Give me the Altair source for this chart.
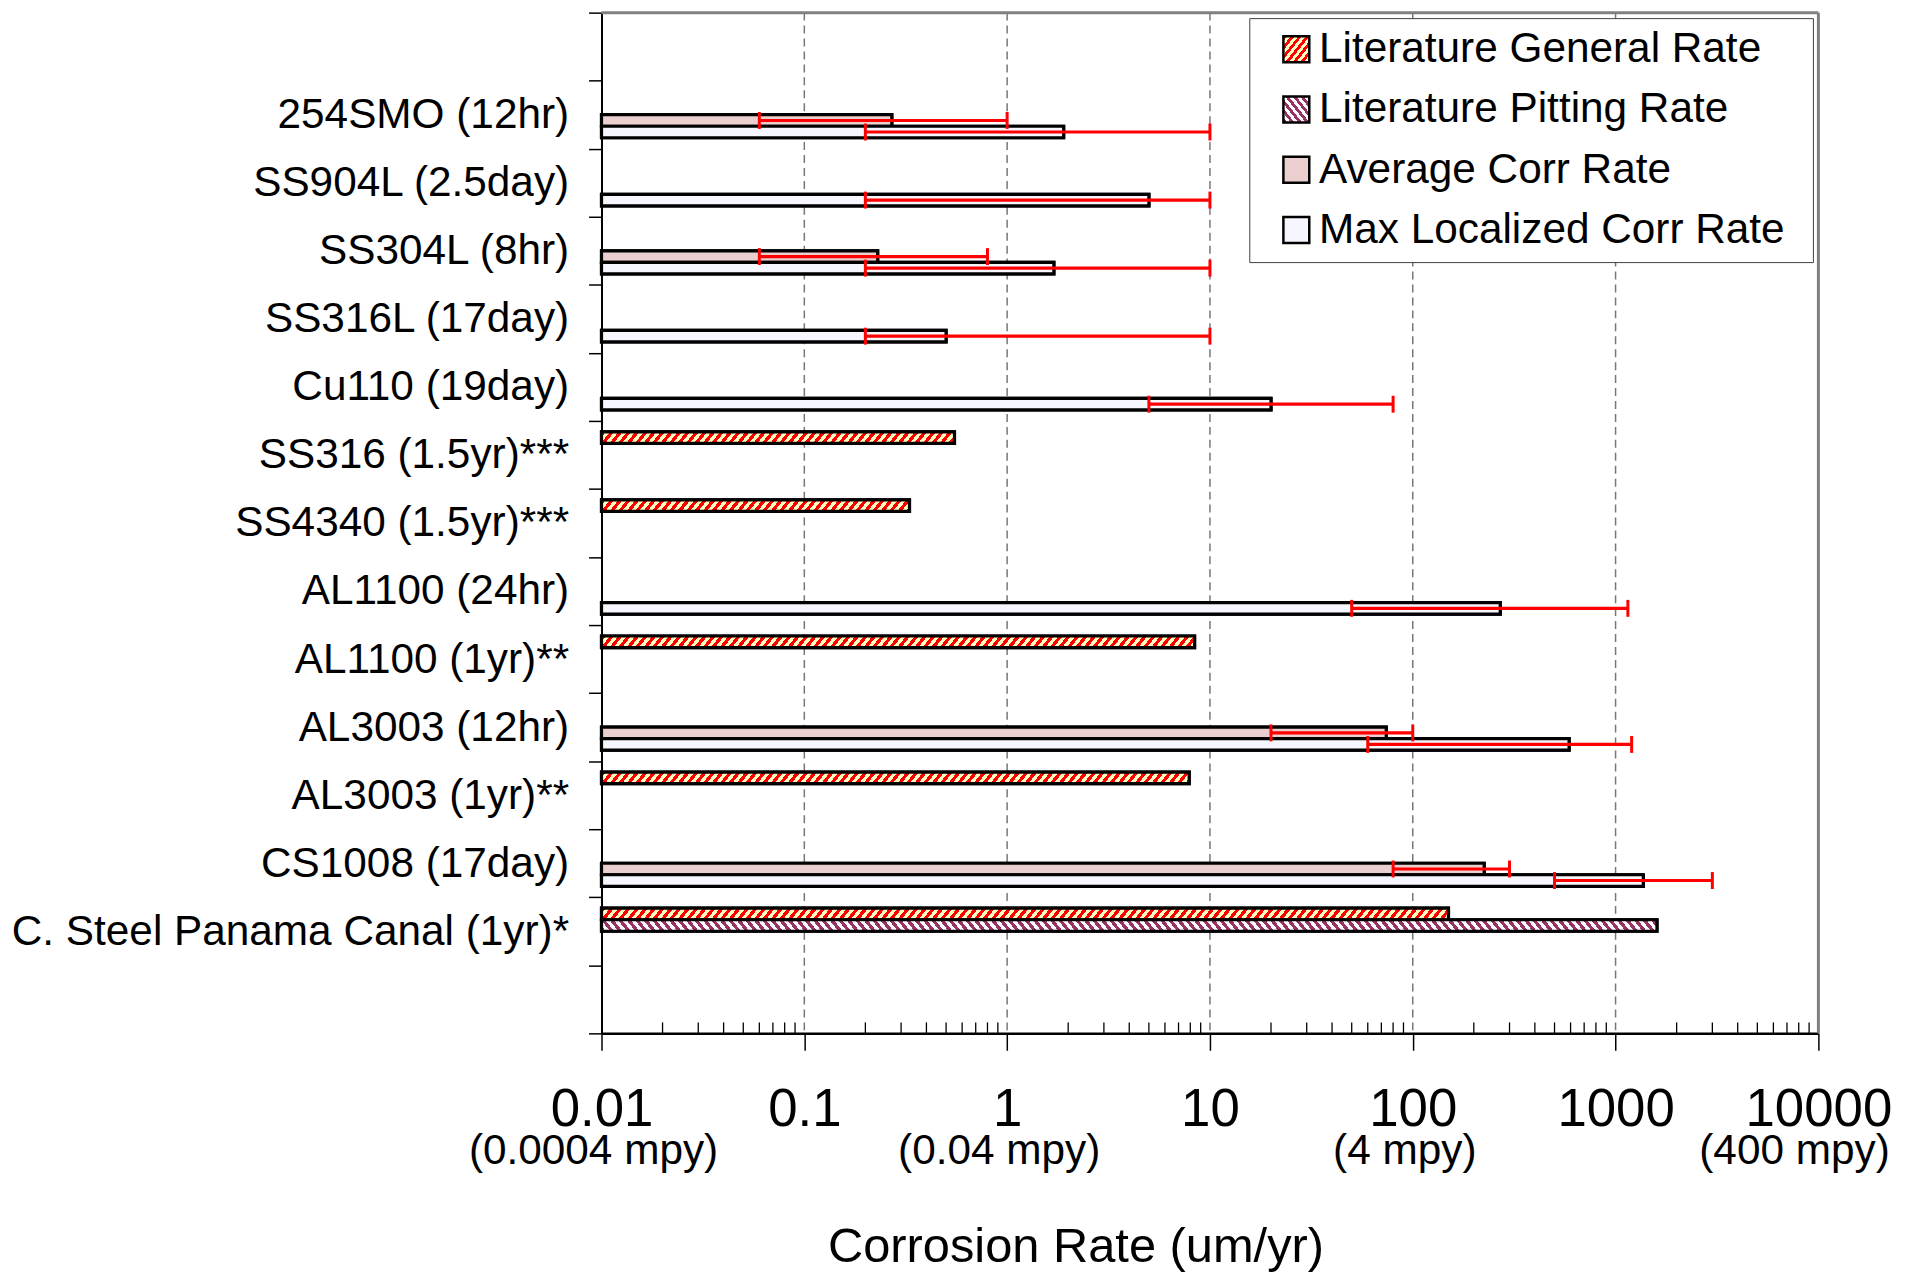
import math
import altair as alt

# ---------------- data ----------------
materials = [
    "254SMO (12hr)", "SS904L (2.5day)", "SS304L (8hr)", "SS316L (17day)",
    "Cu110 (19day)", "SS316 (1.5yr)***", "SS4340 (1.5yr)***", "AL1100 (24hr)",
    "AL1100 (1yr)**", "AL3003 (12hr)", "AL3003 (1yr)**", "CS1008 (17day)",
    "C. Steel Panama Canal (1yr)*",
]
series_names = ["Literature General Rate", "Literature Pitting Rate",
                "Average Corr Rate", "Max Localized Corr Rate"]

lit_general = [None, None, None, None, None, 0.55, 0.33, None, 8.4, None, 7.9, None, 150]
lit_pitting = [None, None, None, None, None, None, None, None, None, None, None, None, 1600]
avg_rate = [0.27, None, 0.23, None, None, None, None, None, None, 74, None, 225, None]
avg_low = [0.06, None, 0.06, None, None, None, None, None, None, 20, None, 80, None]
avg_high = [1.0, None, 0.8, None, None, None, None, None, None, 100, None, 300, None]
max_rate = [1.9, 5.0, 1.7, 0.5, 20, None, None, 270, None, 590, None, 1370, None]
max_low = [0.2, 0.2, 0.2, 0.2, 5, None, None, 50, None, 60, None, 500, None]
max_high = [10, 10, 10, 10, 80, None, None, 1150, None, 1200, None, 3000, None]

x_ticks = [0.01, 0.1, 1, 10, 100, 1000, 10000]
x_tick_labels = ["0.01", "0.1", "1", "10", "100", "1000", "10000"]
grid_at = [0.1, 1, 10, 100, 1000]
mpy_at = [0.01, 1, 100, 10000]
mpy_labels = ["(0.0004 mpy)", "(0.04 mpy)", "(4 mpy)", "(400 mpy)"]
minor_ticks = [0.02, 0.03, 0.04, 0.05, 0.06, 0.07, 0.08, 0.09,
               0.2, 0.3, 0.4, 0.5, 0.6, 0.7, 0.8, 0.9,
               2, 3, 4, 5, 6, 7, 8, 9,
               20, 30, 40, 50, 60, 70, 80, 90,
               200, 300, 400, 500, 600, 700, 800, 900,
               2000, 3000, 4000, 5000, 6000, 7000, 8000, 9000]

# ---------------- layout / style ----------------
W, H = 1222, 1025
PAD = {"left": 596, "top": 2, "right": 93, "bottom": 238}
FONT = "Liberation Sans"
XMIN, XMAX = 0.01, 10000
OFF_PAD = 0.95
N_BANDS = len(materials) + 2
BAR_H = (H / N_BANDS) / (4 + 2 * OFF_PAD)
K = 0.8  # stripe slant
FRAME = "#808080"

GEN_COLORS = ("#ff0000", "#ffffc8")
PIT_COLORS = ("#993366", "#ffffff")
AVG_FILL = "#ebcfcf"
MAX_FILL = "#f6f6ff"


def stripes(w, h, c1, c2, period, slash=True):
    n = max(1.0, (w + K * h) / period)
    lam = (w + K * h) / (w * w + K * K * h * h)
    if slash:
        x1, y1, x2, y2 = 0, 0, lam * w, lam * K * h
    else:
        x1, y1, x2, y2 = 0, 1, lam * w, 1 - lam * K * h
    stops = []
    i = 0
    while i < n:
        a = round(i / n, 5)
        b = round(min((i + 0.5) / n, 1.0), 5)
        c = round(min((i + 1) / n, 1.0), 5)
        stops += [{"offset": a, "color": c1}, {"offset": b, "color": c1},
                  {"offset": b, "color": c2}, {"offset": c, "color": c2}]
        i += 1
    return {"gradient": "linear", "x1": x1, "y1": y1,
            "x2": round(x2, 6), "y2": round(y2, 6), "stops": stops}


def px_width(v):
    return W * (math.log10(v) - math.log10(XMIN)) / (math.log10(XMAX) - math.log10(XMIN))


def bar_fill(series, v):
    if series == series_names[0]:
        return stripes(px_width(v), BAR_H, *GEN_COLORS, 8.5, True)
    if series == series_names[1]:
        return stripes(px_width(v), BAR_H, *PIT_COLORS, 8.5, False)
    if series == series_names[2]:
        return AVG_FILL
    return MAX_FILL


def to_expr(g):
    stops = ",".join("{offset:%s,color:'%s'}" % (s["offset"], s["color"]) for s in g["stops"])
    return "{gradient:'linear',x1:%s,y1:%s,x2:%s,y2:%s,stops:[%s]}" % (
        g["x1"], g["y1"], g["x2"], g["y2"], stops)


SYM = 26
legend_range = [
    alt.ExprRef(to_expr(stripes(SYM, SYM, *GEN_COLORS, 7.5, True))),
    alt.ExprRef(to_expr(stripes(SYM, SYM, *PIT_COLORS, 7.5, False))),
    AVG_FILL,
    MAX_FILL,
]

# ---------------- tables built from the arrays ----------------
bars = []
errs = []
caps = []
for i, m in enumerate(materials):
    for s, arr in zip(series_names, [lit_general, lit_pitting, avg_rate, max_rate]):
        v = arr[i]
        if v is None:
            continue
        bars.append({"material": m, "series": s, "value": v, "fill": bar_fill(s, v)})
    for s, lo, hi in [(series_names[2], avg_low, avg_high), (series_names[3], max_low, max_high)]:
        if lo[i] is None:
            continue
        errs.append({"material": m, "series": s, "low": lo[i], "high": hi[i]})
        caps.append({"material": m, "series": s, "end": lo[i]})
        caps.append({"material": m, "series": s, "end": hi[i]})

minor_df = [{"t": t} for t in minor_ticks]
grid_df = [{"g": g} for g in grid_at]
mpy_df = [{"v": v, "label": l} for v, l in zip(mpy_at, mpy_labels)]

# ---------------- scales / axes ----------------
xscale = alt.Scale(type="log", domain=[XMIN, XMAX], nice=False)
yscale = alt.Scale(domain=[" "] + materials + ["  "], paddingInner=0, paddingOuter=0)
offscale = alt.Scale(domain=series_names, paddingInner=0, paddingOuter=OFF_PAD)

label_list = "[" + ",".join("'" + t + "'" for t in x_tick_labels) + "]"
xaxis = alt.Axis(
    values=x_ticks,
    labelExpr=label_list + "[round(log(datum.value)/LN10) + 2]",
    grid=False,
    tickSize=17, tickWidth=1.5, tickColor="black",
    domainColor="black", domainWidth=2.5,
    labelFont=FONT, labelFontSize=53, labelColor="black",
    labelBaseline="alphabetic", labelPadding=76,
    labelFlush=False, labelOverlap=False,
    title="Corrosion Rate (um/yr)", titleFont=FONT, titleFontSize=49,
    titleFontWeight="normal", titleColor="black",
    titleX=476, titleY=229, titleBaseline="alphabetic", titleAlign="center",
)
yaxis = alt.Axis(
    title=None, tickBand="extent", tickSize=13, tickWidth=1.5, tickColor="black",
    domainColor="black", domainWidth=2, grid=False,
    labelFont=FONT, labelFontSize=42.5, labelColor="black",
    labelPadding=20, labelLimit=1000,
)


def X(field):
    return alt.X(field, scale=xscale, axis=xaxis, stack=None)


Y = alt.Y("material:N", scale=yscale, axis=yaxis)
YO = alt.YOffset("series:N", scale=offscale)

grid_layer = alt.Chart(alt.Data(values=grid_df)).mark_rule(
    color="#777777", strokeWidth=1.5, strokeDash=[8, 5]
).encode(
    x=X("g:Q"),
    y=alt.value(0),
    y2=alt.value(H),
)

frame_top = alt.Chart(alt.Data(values=[{}])).mark_rule(
    color=FRAME, strokeWidth=3
).encode(x=alt.value(0), x2=alt.value(W), y=alt.value(0))

frame_right = alt.Chart(alt.Data(values=[{}])).mark_rule(
    color=FRAME, strokeWidth=3
).encode(x=alt.value(W), y=alt.value(0), y2=alt.value(H))

legend_layer = alt.Chart(alt.Data(values=bars)).mark_bar(
    stroke="black", strokeWidth=3.2
).encode(
    x=X("value:Q"),
    x2=alt.datum(XMIN),
    y=Y,
    yOffset=YO,
    color=alt.Color(
        "series:N",
        scale=alt.Scale(domain=series_names, range=legend_range),
        legend=alt.Legend(
            title="\u00a0\u00a0", titleOrient="right", titlePadding=17.5,
            titleFontSize=12,
            orient="none", legendX=650.5, legendY=5.5,
            symbolType="square", symbolSize=SYM * SYM,
            symbolStrokeColor="black", symbolStrokeWidth=2.5,
            labelFont=FONT, labelFontSize=42.5, labelColor="black",
            labelLimit=1000, labelOffset=1.5, rowPadding=17.5,
            padding=10, symbolOffset=16,
            strokeColor="#404040", fillColor="white",
        ),
    ),
)

hatch_layer = alt.Chart(alt.Data(values=bars)).mark_bar(
    stroke="black", strokeWidth=3.2
).encode(
    x=X("value:Q"),
    x2=alt.datum(XMIN),
    y=Y,
    yOffset=YO,
    fill=alt.Fill("fill:N", scale=None, legend=None),
)

minor_layer = alt.Chart(alt.Data(values=minor_df)).mark_rule(
    color="black", strokeWidth=1.3
).encode(
    x=X("t:Q"),
    y=alt.value(H - 11),
    y2=alt.value(H),
)

err_layer = alt.Chart(alt.Data(values=errs)).mark_rule(
    color="#ff0000", strokeWidth=3.2
).encode(
    x=X("low:Q"),
    x2="high:Q",
    y=Y,
    yOffset=YO,
)

cap_layer = alt.Chart(alt.Data(values=caps)).mark_tick(
    color="#ff0000", thickness=3, size=17, orient="vertical", opacity=1
).encode(
    x=X("end:Q"),
    y=Y,
    yOffset=YO,
)


def mpy_text(dx):
    return alt.Chart(alt.Data(values=mpy_df)).mark_text(
        font=FONT, fontSize=42.5, baseline="alphabetic", align="center",
        color="black", dx=dx
    ).encode(
        x=X("v:Q"),
        y=alt.value(H + 131),
        text="label:N",
    )


mpy_inner = mpy_text(-8).transform_filter(alt.datum.v < XMAX)
mpy_last = mpy_text(-24).transform_filter(alt.datum.v >= XMAX)

chart = alt.layer(
    grid_layer, frame_top, frame_right, legend_layer, hatch_layer,
    minor_layer, err_layer, cap_layer, mpy_inner, mpy_last
).properties(
    width=W, height=H,
    autosize=alt.AutoSizeParams(type="none"),
    padding=PAD,
    background="white",
).configure_view(
    stroke=FRAME, strokeWidth=3
).configure(
    font=FONT
)

chart.save("out.html", embed_options={"renderer": "svg", "actions": False})
